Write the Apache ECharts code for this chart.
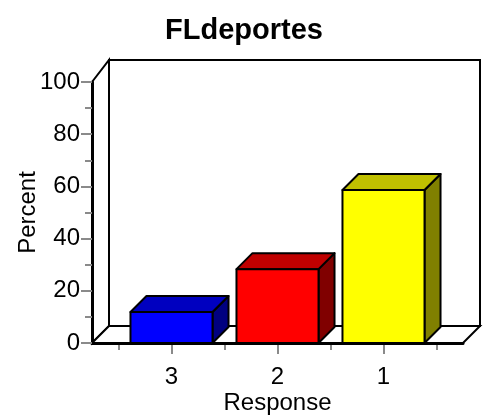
<!DOCTYPE html>
<html><head><meta charset="utf-8">
<script src="https://cdn.jsdelivr.net/npm/echarts@6/dist/echarts.min.js"></script>
<style>html,body{margin:0;padding:0;background:#fff}#c{width:488px;height:417px}</style>
</head><body><div id="c"></div>
<script>
// ---- data ----
const chartTitle = 'FLdeportes';
const categories = ['3', '2', '1'];
const percents = [11.9, 28.3, 58.6];
const yTickValues = [0, 20, 40, 60, 80, 100];
const xAxisTitle = 'Response';
const yAxisTitle = 'Percent';
const faceColors = ['#0000FF', '#FF0000', '#FFFF00'];
const topColors = ['#0000C0', '#C00000', '#C0C000'];
const sideColors = ['#000080', '#800000', '#808000'];

// ---- layout ----
const FONT = 'Liberation Sans, Arial, sans-serif';
const yMin = yTickValues[0], yMax = yTickValues[yTickValues.length - 1], yStep = yTickValues[1] - yTickValues[0];
const xMin = -0.75, xMax = categories.length - 1 + 0.75;
const DEPTH_WALL = 17, DEPTH_BAR = 16, BAR_FRAC = 0.774;
const gridLeft = 92, gridTop = 82, gridW = 371, gridH = 261;
const unit = gridW / (xMax - xMin);
const TICK_GRAY = '#8a8a8a';

function renderWalls(params, api) {
  const fl = api.coord([xMin, yMin]);
  const fr = api.coord([xMax, yMin]);
  const ft = api.coord([xMin, yMax]);
  const d = DEPTH_WALL;
  const backTop = ft[1] - d - 5;
  const bl = [fl[0] + d, fl[1] - d];
  const br = [fr[0] + d, fr[1] - d];
  const st = { fill: '#fff', stroke: '#000', lineWidth: 2 };
  return {
    type: 'group',
    children: [
      { type: 'rect', shape: { x: bl[0], y: backTop, width: br[0] - bl[0], height: bl[1] - backTop }, style: st },
      { type: 'polygon', shape: { points: [fl, ft, [bl[0], backTop], bl] }, style: st },
      { type: 'polygon', shape: { points: [fl, fr, br, bl] }, style: st }
    ]
  };
}

function renderBar(params, api) {
  const i = params.dataIndex;
  const top = api.coord([api.value(0), api.value(1)]);
  const base = api.coord([api.value(0), 0]);
  const w = api.size([1, 0])[0] * BAR_FRAC;
  const x0 = top[0] - w / 2, x1 = top[0] + w / 2, yt = top[1], yb = base[1];
  const d = DEPTH_BAR;
  const ln = { stroke: '#000', lineWidth: 2, lineJoin: 'round' };
  return {
    type: 'group',
    children: [
      { type: 'polygon', shape: { points: [[x1, yb], [x1, yt], [x1 + d, yt - d], [x1 + d, yb - d]] },
        style: Object.assign({ fill: sideColors[i] }, ln) },
      { type: 'polygon', shape: { points: [[x0, yt], [x1, yt], [x1 + d, yt - d], [x0 + d, yt - d]] },
        style: Object.assign({ fill: topColors[i] }, ln) },
      { type: 'rect', shape: { x: x0, y: yt, width: w, height: yb - yt },
        style: Object.assign({ fill: faceColors[i] }, ln) }
    ]
  };
}

const chart = echarts.init(document.getElementById('c'), null, { renderer: 'canvas' });
chart.setOption({
  animation: false,
  backgroundColor: '#fff',
  textStyle: { fontFamily: FONT },
  title: {
    text: chartTitle, left: 'center', top: 11,
    textStyle: { fontFamily: FONT, fontSize: 29, fontWeight: 'bold', color: '#000' }
  },
  grid: [
    { left: gridLeft, top: gridTop, width: gridW, height: gridH, containLabel: false, outerBoundsMode: 'none' },
    { left: gridLeft + (-0.5 - xMin) * unit, top: gridTop, width: categories.length * unit, height: gridH,
      containLabel: false, outerBoundsMode: 'none' }
  ],
  xAxis: [
    { gridIndex: 0, type: 'value', min: xMin, max: xMax, z: 5,
      axisLine: { show: true, onZero: false, lineStyle: { color: '#000', width: 3 } },
      axisTick: { show: false }, axisLabel: { show: false }, splitLine: { show: false },
      name: xAxisTitle, nameLocation: 'middle', nameGap: 48, nameMoveOverlap: false,
      nameTextStyle: { fontFamily: FONT, fontSize: 24, color: '#000' } },
    { gridIndex: 1, type: 'category', data: categories, position: 'bottom',
      axisLine: { show: false },
      axisTick: { show: true, alignWithLabel: true, length: 11, lineStyle: { color: TICK_GRAY, width: 2 } },
      axisLabel: { fontFamily: FONT, fontSize: 24, color: '#000', margin: 22 } },
    { gridIndex: 1, type: 'category', data: categories, position: 'bottom',
      axisLine: { show: false },
      axisTick: { show: true, length: 7, lineStyle: { color: TICK_GRAY, width: 2 } },
      axisLabel: { show: false } }
  ],
  yAxis: [
    { gridIndex: 0, type: 'value', min: yMin, max: yMax, interval: yStep, z: 5,
      axisLine: { show: true, onZero: false, lineStyle: { color: '#000', width: 3 } },
      axisTick: { show: true, length: 11, lineStyle: { color: TICK_GRAY, width: 2 } },
      minorTick: { show: true, splitNumber: 2, length: 7, lineStyle: { color: TICK_GRAY, width: 2 } },
      splitLine: { show: false },
      axisLabel: { fontFamily: FONT, fontSize: 24, color: '#000', margin: 12 },
      name: yAxisTitle, nameLocation: 'middle', nameGap: 52, nameRotate: 90, nameMoveOverlap: false,
      nameTextStyle: { fontFamily: FONT, fontSize: 24, color: '#000' } },
    { gridIndex: 1, type: 'value', min: yMin, max: yMax, show: false }
  ],
  series: [
    { type: 'custom', xAxisIndex: 0, yAxisIndex: 0, z: 1, silent: true,
      renderItem: renderWalls, data: [[0, 0]] },
    { type: 'custom', xAxisIndex: 1, yAxisIndex: 1, z: 3, silent: true,
      renderItem: renderBar, data: categories.map((c, i) => [i, percents[i]]) }
  ]
});
</script></body></html>
